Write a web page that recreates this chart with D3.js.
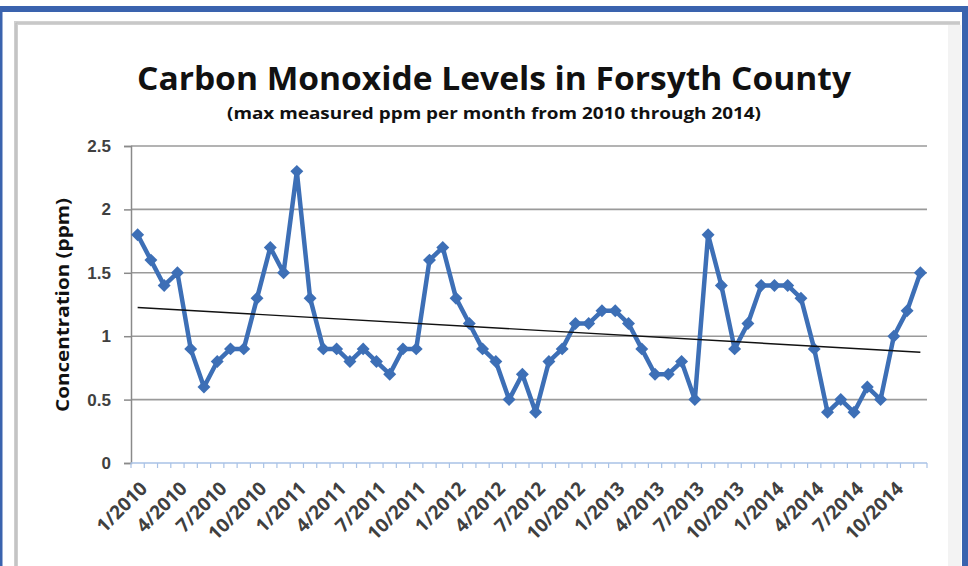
<!DOCTYPE html>
<html>
<head>
<meta charset="utf-8">
<script src="https://cdn.jsdelivr.net/npm/d3@7"></script>
<style>
  body { margin: 0; background: #fff; }
  svg { display: block; font-family: "Open Sans", "DejaVu Sans", sans-serif; }
</style>
</head>
<body>
<div id="chart"></div>
<script>
// monthly max CO readings, 1/2010 .. 12/2014
var months = [];
for (var yr = 2010; yr <= 2014; yr++) {
  for (var m = 1; m <= 12; m++) months.push(m + "/" + yr);
}

var ppm2010 = [1.8, 1.6, 1.4, 1.5, 0.9, 0.6, 0.8, 0.9, 0.9, 1.3, 1.7, 1.5];
var ppm2011 = [2.3, 1.3, 0.9, 0.9, 0.8, 0.9, 0.8, 0.7, 0.9, 0.9, 1.6, 1.7];
var ppm2012 = [1.3, 1.1, 0.9, 0.8, 0.5, 0.7, 0.4, 0.8, 0.9, 1.1, 1.1, 1.2];
var ppm2013 = [1.2, 1.1, 0.9, 0.7, 0.7, 0.8, 0.5, 1.8, 1.4, 0.9, 1.1, 1.4];
var ppm2014 = [1.4, 1.4, 1.3, 0.9, 0.4, 0.5, 0.4, 0.6, 0.5, 1.0, 1.2, 1.5];
var ppm = ppm2010.concat(ppm2011, ppm2012, ppm2013, ppm2014);

var yTicks = [0, 0.5, 1, 1.5, 2, 2.5];
var yTickLabels = ["0", "0.5", "1", "1.5", "2", "2.5"];

var titleText = "Carbon Monoxide Levels in Forsyth County";
var subtitleText = "(max measured ppm per month from 2010 through 2014)";
var yTitle = "Concentration (ppm)";

var width = 968, height = 566;
// plot box (note: "top" is reserved on window, so use plot* names)
var plotLeft = 131, plotRight = 927, plotTop = 146, plotBottom = 463;
var blue = "#3d6fb6";

var svg = d3.select("#chart").append("svg")
    .attr("width", width)
    .attr("height", height);

// outer frame (blue) and inner panel edge (grey)
svg.append("rect").attr("x", 0).attr("y", 6).attr("width", width).attr("height", 6).attr("fill", "#3a63ae");
svg.append("rect").attr("x", 0).attr("y", 6).attr("width", 2.5).attr("height", height).attr("fill", "#3a63ae");
svg.append("rect").attr("x", 962).attr("y", 6).attr("width", 6).attr("height", height).attr("fill", "#3a63ae");
svg.append("rect").attr("x", 948).attr("y", 25).attr("width", 13).attr("height", height).attr("fill", "#f3f3f3");
svg.append("rect").attr("x", 14).attr("y", 21).attr("width", 946).attr("height", 4).attr("fill", "#d2d2d2");
svg.append("rect").attr("x", 14).attr("y", 21).attr("width", 4).attr("height", height).attr("fill", "#cfcfcf");
svg.append("line").attr("x1", 16).attr("x2", 960).attr("y1", 23).attr("y2", 23).attr("stroke", "#bdbdbd").attr("stroke-width", 1.2);
svg.append("line").attr("x1", 16).attr("x2", 16).attr("y1", 23).attr("y2", height).attr("stroke", "#bdbdbd").attr("stroke-width", 1.2);

var x = d3.scaleBand()
    .domain(d3.range(months.length))
    .range([plotLeft, plotRight])
    .padding(0);
var bw = x.bandwidth();
function cx(i) { return x(i) + bw / 2; }

var y = d3.scaleLinear()
    .domain([0, 2.5])
    .range([plotBottom, plotTop]);

// gridlines
svg.append("g").selectAll("line")
    .data(yTicks.filter(function(d) { return d > 0; }))
    .enter().append("line")
      .attr("x1", plotLeft)
      .attr("x2", plotRight)
      .attr("y1", function(d) { return y(d); })
      .attr("y2", function(d) { return y(d); })
      .attr("stroke", "#9a9a9a")
      .attr("stroke-width", 1.6);

// y axis
var yAxis = d3.axisLeft(y)
    .tickValues(yTicks)
    .tickSize(7)
    .tickPadding(13)
    .tickFormat(function(d, i) { return yTickLabels[i]; });
var yg = svg.append("g")
    .attr("transform", "translate(" + plotLeft + ",0)")
    .call(yAxis);
yg.select(".domain").attr("stroke", "#8a8a8a").attr("stroke-width", 1.5);
yg.selectAll(".tick line").attr("stroke", "#8a8a8a").attr("stroke-width", 1.5);
yg.selectAll(".tick text")
    .attr("fill", "#404040")
    .style("font-size", "17px")
    .style("font-weight", "bold");

// x axis: light blue line with a tick at each month boundary
svg.append("line")
    .attr("x1", plotLeft).attr("x2", plotRight)
    .attr("y1", plotBottom).attr("y2", plotBottom)
    .attr("stroke", "#a9c2e6").attr("stroke-width", 1.5);
svg.append("g").selectAll("line")
    .data(d3.range(months.length + 1))
    .enter().append("line")
      .attr("x1", function(i) { return plotLeft + i * bw; })
      .attr("x2", function(i) { return plotLeft + i * bw; })
      .attr("y1", plotBottom)
      .attr("y2", plotBottom + 5)
      .attr("stroke", "#a9c2e6")
      .attr("stroke-width", 1.2);

// x labels every 3 months, rotated
svg.append("g").selectAll("text")
    .data(d3.range(0, months.length, 3))
    .enter().append("text")
      .attr("transform", function(i) { return "translate(" + (cx(i) + 6) + "," + (plotBottom + 22) + ") rotate(-45)"; })
      .attr("text-anchor", "end")
      .attr("dy", "0.35em")
      .attr("fill", "#404040")
      .style("font-size", "19px")
      .style("font-weight", "bold")
      .text(function(i) { return months[i]; });

// series line + diamond markers
var line = d3.line()
    .x(function(d, i) { return cx(i); })
    .y(function(d) { return y(d); });

svg.append("path")
    .datum(ppm)
    .attr("d", line)
    .attr("fill", "none")
    .attr("stroke", blue)
    .attr("stroke-width", 4.5)
    .attr("stroke-linejoin", "round");

var diamond = d3.symbol().type(d3.symbolSquare).size(84);
svg.append("g").selectAll("path")
    .data(ppm)
    .enter().append("path")
      .attr("d", diamond)
      .attr("transform", function(d, i) { return "translate(" + cx(i) + "," + y(d) + ") rotate(45)"; })
      .attr("fill", blue);

// linear trend line (least squares over month index)
var n = ppm.length;
var mx = d3.mean(d3.range(n)), my = d3.mean(ppm);
var sxy = d3.sum(ppm, function(d, i) { return (i - mx) * (d - my); });
var sxx = d3.sum(d3.range(n), function(i) { return (i - mx) * (i - mx); });
var slope = sxy / sxx, icpt = my - slope * mx;
svg.append("line")
    .attr("x1", cx(0)).attr("y1", y(icpt))
    .attr("x2", cx(n - 1)).attr("y2", y(icpt + slope * (n - 1)))
    .attr("stroke", "#111")
    .attr("stroke-width", 1.4);

// titles
svg.append("text")
    .attr("x", 494).attr("y", 90)
    .attr("text-anchor", "middle")
    .attr("textLength", 714)
    .attr("lengthAdjust", "spacingAndGlyphs")
    .attr("fill", "#111")
    .style("font-size", "33px")
    .style("font-weight", "bold")
    .text(titleText);

svg.append("text")
    .attr("x", 494).attr("y", 119)
    .attr("text-anchor", "middle")
    .attr("textLength", 534)
    .attr("lengthAdjust", "spacingAndGlyphs")
    .attr("fill", "#111")
    .style("font-size", "16px")
    .style("font-weight", "bold")
    .text(subtitleText);

svg.append("text")
    .attr("transform", "translate(69,305) rotate(-90)")
    .attr("text-anchor", "middle")
    .attr("textLength", 214)
    .attr("lengthAdjust", "spacingAndGlyphs")
    .attr("fill", "#111")
    .style("font-size", "17px")
    .style("font-weight", "bold")
    .text(yTitle);
</script>
</body>
</html>
